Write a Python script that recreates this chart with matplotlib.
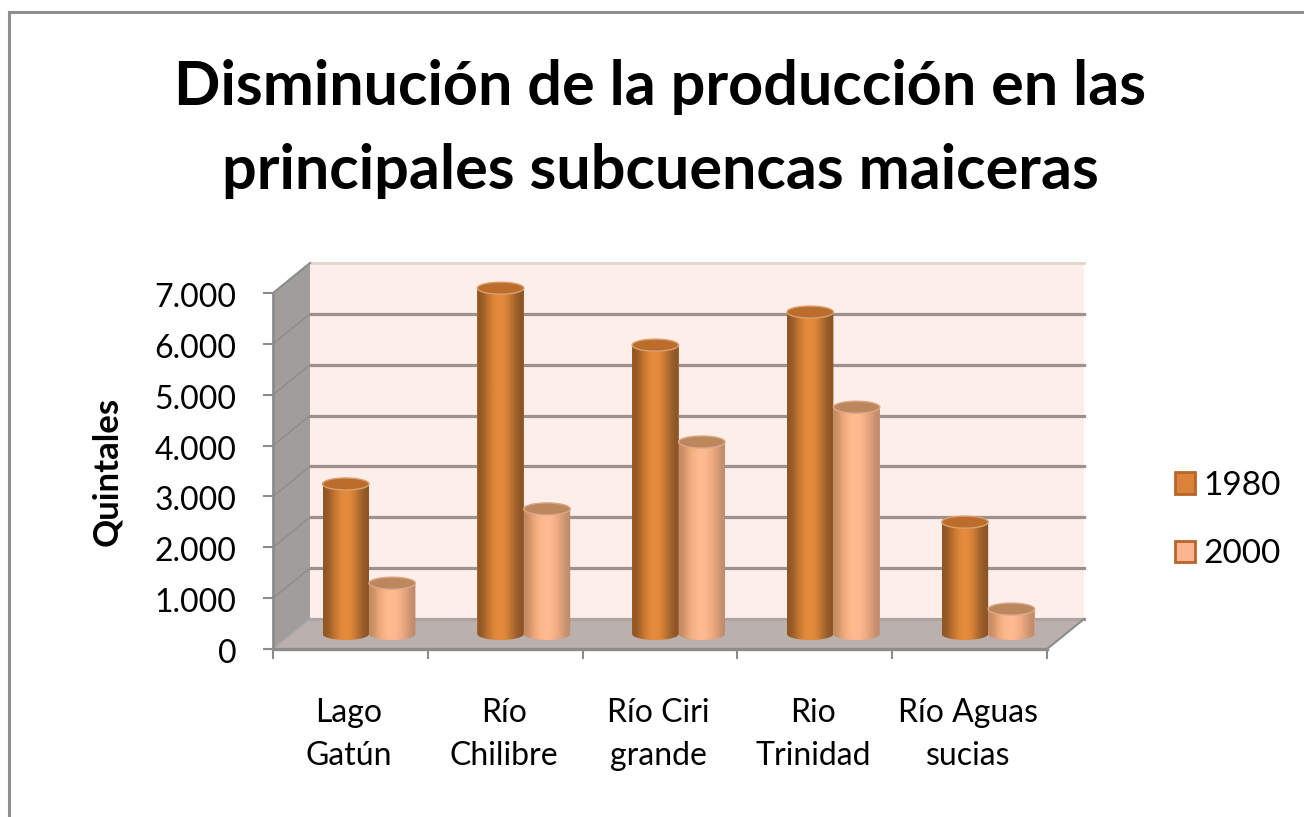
import numpy as np
import matplotlib
matplotlib.use("Agg")
import matplotlib.pyplot as plt
from matplotlib.patches import Polygon, Patch
from matplotlib.lines import Line2D
from matplotlib.transforms import ScaledTranslation

# ---- data ----
categories = ["Lago\nGatún", "Río\nChilibre", "Río Ciri\ngrande", "Rio\nTrinidad", "Río Aguas\nsucias"]
values_1980 = [2950, 6800, 5680, 6330, 2200]
values_2000 = [1000, 2460, 3775, 4460, 490]
series_labels = ["1980", "2000"]
y_ticks = [0, 1000, 2000, 3000, 4000, 5000, 6000, 7000]
y_labels = ["0", "1.000", "2.000", "3.000", "4.000", "5.000", "6.000", "7.000"]
title = "Disminución de la producción en las\nprincipales subcuencas maiceras"
y_title = "Quintales"

# ---- layout ----
W, H = 1304, 817
plt.rcParams["font.family"] = ["Lato", "DejaVu Sans"]
fig = plt.figure(figsize=(W / 100, H / 100), dpi=100, facecolor="white")
ax = fig.add_axes([273 / W, (H - 649) / H, 774 / W, 356 / H])
ax.patch.set_alpha(0)
for s in ax.spines.values():
    s.set_visible(False)

px_y = 7000 / 356
px_x = 5 / 774
BACK_X, BACK_Y = 37 * px_x, 30 * px_y     # depth of the back wall
BAR_Y = 15 * px_y                         # depth of the bars' base
ELL = 6 * px_y

# walls and floor
ax.add_patch(Polygon([(BACK_X, BACK_Y), (5 + BACK_X, BACK_Y), (5 + BACK_X, 7000 + BACK_Y), (BACK_X, 7000 + BACK_Y)],
                     fc="#FDEEE9", ec="none", zorder=1, clip_on=False))
ax.add_patch(Polygon([(0, 0), (BACK_X, BACK_Y), (BACK_X, 7000 + BACK_Y), (0, 7000)],
                     fc="#A19D9B", ec="none", zorder=1, clip_on=False))
ax.add_patch(Polygon([(0, 0), (5, 0), (5 + BACK_X, BACK_Y), (BACK_X, BACK_Y)],
                     fc="#BAB1AE", ec="none", zorder=1.5, clip_on=False))
for v in y_ticks[1:-1]:
    ax.plot([0, BACK_X], [v, v + BACK_Y], color="#8F8B89", lw=1, zorder=1.2, clip_on=False)
    ax.plot([BACK_X, 5 + BACK_X], [v + BACK_Y] * 2, color="#9D908D", lw=2.3, zorder=1.2, clip_on=False)
ax.plot([BACK_X, 5 + BACK_X], [BACK_Y] * 2, color="#ADA3A0", lw=2.3, zorder=1.6, clip_on=False)
ax.plot([BACK_X, 5 + BACK_X], [7000 + BACK_Y] * 2, color="#E3D5D0", lw=2, zorder=1.2, clip_on=False)
ax.plot([0, BACK_X], [7000, 7000 + BACK_Y], color="#8C8C8C", lw=1.5, zorder=1.7, clip_on=False)
ax.plot([0, BACK_X], [0, BACK_Y], color="#A8A8A8", lw=1, zorder=1.7, clip_on=False)
ax.plot([5, 5 + BACK_X], [0, BACK_Y], color="#8C8C8C", lw=1.5, zorder=1.7, clip_on=False)
ax.plot([0, 5], [0, 0], color="#8C8C8C", lw=2.4, zorder=1.8, clip_on=False)
ax.plot([0, 0], [0, 7000], color="#8C8C8C", lw=2.0, zorder=1.8, clip_on=False)

# cylinders
bar_w = 0.30
centers = np.arange(len(categories)) + 0.62
stops = {
    "1980": ["#8E5524", "#B96F2D", "#E08738", "#E88E42", "#D98434", "#A9682F", "#8A5425"],
    "2000": ["#C48A62", "#EFA97C", "#FDB68C", "#FFBD94", "#F8B287", "#E3A27B", "#BE8B6C"],
}
tops = {"1980": ("#BC6C2B", "#D9A070"), "2000": ("#BD875E", "#D9A888")}
face = {"1980": "#DE8238", "2000": "#FBB58E"}


def hex_rgb(h):
    return np.array(matplotlib.colors.to_rgb(h))


def cylinder(ax, x, val, name, z):
    left, right = x - bar_w / 2, x + bar_w / 2
    t = np.linspace(0, np.pi, 40)
    xs = x + np.cos(t) * bar_w / 2
    base, top = BAR_Y, val + BAR_Y
    upper = np.c_[xs, top + np.sin(t) * ELL]
    lower = np.c_[xs[::-1], base - np.sin(t[::-1]) * ELL]
    outline = Polygon(np.r_[upper, lower], transform=ax.transData, fc="none", ec="none")
    ax.add_patch(outline)
    grad = np.array([hex_rgb(c) for c in stops[name]])[None, :, :]
    im = ax.imshow(grad, extent=[left, right, base - ELL, top + ELL], aspect="auto",
                   interpolation="bicubic", zorder=z)
    im.set_clip_path(outline)
    im.set_clip_box(fig.bbox)
    # top cap
    u = np.linspace(0, 2 * np.pi, 80)
    ax.add_patch(Polygon(np.c_[x + np.cos(u) * bar_w / 2, top + np.sin(u) * ELL],
                         fc=tops[name][0], ec=tops[name][1], lw=1, zorder=z + 0.1, clip_on=False))


for i, (name, vals) in enumerate(zip(series_labels, [values_1980, values_2000])):
    off = (-0.15 if i == 0 else 0.15)
    ax.bar(centers + off, vals, width=bar_w, bottom=BAR_Y, color=face[name],
           edgecolor="none", zorder=2, label=name, clip_on=False)
    for x, v in zip(centers + off, vals):
        cylinder(ax, x, v, name, 3 + i)

ax.set_xlim(0, 5)
ax.set_ylim(0, 7000)

# ticks
ax.set_yticks(y_ticks, y_labels, fontsize=23)
ax.tick_params(axis="y", length=7.5, width=1.5, color="#8C8C8C", pad=19, labelcolor="black")
shift = ScaledTranslation(0, -2 / 100, fig.dpi_scale_trans)
for lab in ax.get_yticklabels():
    lab.set_transform(lab.get_transform() + shift)
ax.set_xticks(np.arange(6), [""] * 6)
ax.tick_params(axis="x", length=7.5, width=1.5, color="#8C8C8C")
ax.set_xticks(np.arange(5) + 0.49, categories, minor=True, fontsize=23, linespacing=1.55)
ax.tick_params(axis="x", which="minor", length=0, pad=35)

# legend
hs = [Patch(fc="#DA8239", ec="#B9652A", lw=2, label=series_labels[0]),
      Patch(fc="#FBB591", ec="#B9652A", lw=2, label=series_labels[1])]
fig.legend(handles=hs, loc="upper left", bbox_to_anchor=(1168 / W, 1 - 464 / H), frameon=False,
           fontsize=24, handlelength=0.6, handleheight=0.6, handletextpad=0.25,
           labelspacing=1.16, borderpad=0.2, borderaxespad=0)

# title and axis title
fig.text(660 / W, 1 - 129 / H, title, ha="center", va="center", fontsize=44,
         fontweight="bold", color="black", linespacing=1.6)
fig.text(107 / W, 1 - 471 / H, y_title, rotation=90, ha="center", va="center",
         fontsize=25, fontweight="bold", color="black")

# outer frame
for xs, ys in [([9, 9], [12, H]), ([9, W], [12, 12])]:
    fig.add_artist(Line2D([x / W for x in xs], [1 - y / H for y in ys], color="#8F8F8F", lw=2.2))

fig.savefig("out.png", dpi=100, facecolor="white")
